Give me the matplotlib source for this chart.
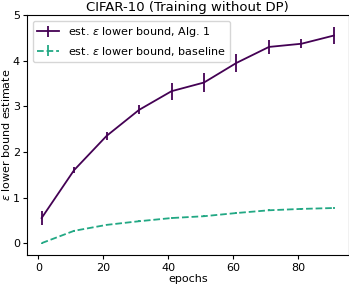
import numpy as np
import matplotlib
matplotlib.use('Agg')
import matplotlib.pyplot as plt

# data
epochs = [1, 11, 21, 31, 41, 51, 61, 71, 81, 91]
alg1_eps = [0.55, 1.60, 2.35, 2.92, 3.33, 3.52, 3.95, 4.30, 4.37, 4.55]
alg1_err = [0.15, 0.07, 0.08, 0.10, 0.19, 0.20, 0.20, 0.15, 0.10, 0.19]
base_eps = [0.00, 0.27, 0.40, 0.48, 0.55, 0.59, 0.66, 0.72, 0.75, 0.77]
base_err = [0.01, 0.02, 0.01, 0.02, 0.02, 0.02, 0.02, 0.02, 0.02, 0.02]

plt.rcParams['font.size'] = 8

fig = plt.figure(figsize=(3.49, 2.86), dpi=100)
ax = fig.subplots()
fig.subplots_adjust(left=27 / 349, right=348.5 / 349, top=1 - 15 / 286, bottom=1 - 255 / 286)

ax.errorbar(epochs, alg1_eps, yerr=alg1_err, color='#440154', linewidth=1.3,
            label=r'est. $\varepsilon$ lower bound, Alg. 1')
ax.errorbar(epochs, base_eps, yerr=base_err, color='#22a884', linewidth=1.3,
            linestyle='--', label=r'est. $\varepsilon$ lower bound, baseline')

ax.set_ylim(-0.26, 5.0)
ax.tick_params(axis='y', length=3, pad=2)
ax.tick_params(axis='x', length=3, pad=3)
ax.set_title('CIFAR-10 (Training without DP)', fontsize=9.5, pad=3)
ax.set_xlabel('epochs', labelpad=0.5)
ax.set_ylabel(r'$\varepsilon$ lower bound estimate', labelpad=1)
ax.legend(loc='upper left')

plt.savefig('out.png', dpi=100)
